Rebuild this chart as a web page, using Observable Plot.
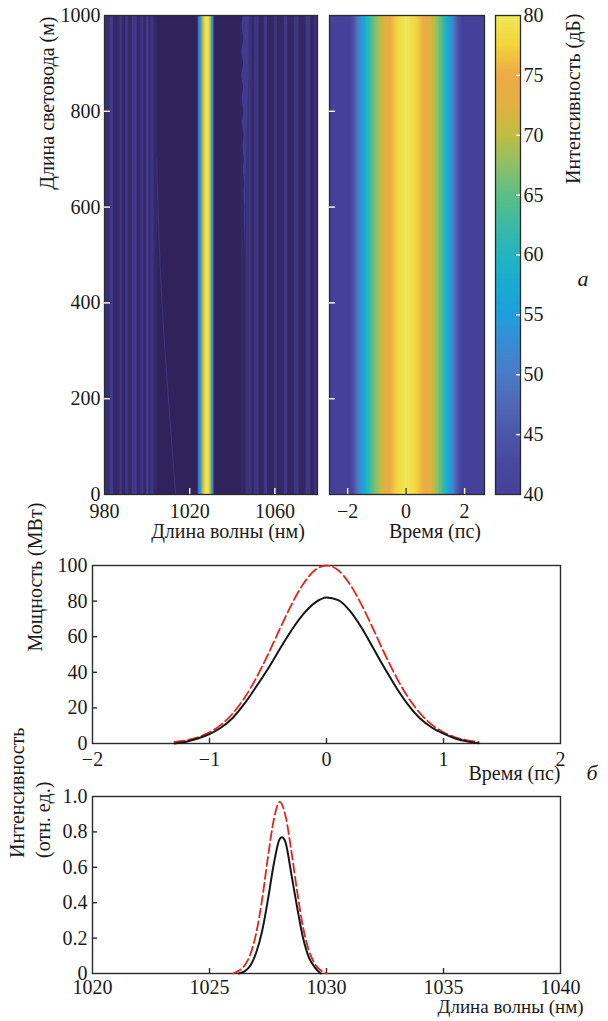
<!DOCTYPE html>
<html><head><meta charset="utf-8">
<script src="https://cdn.jsdelivr.net/npm/d3@7"></script>
<script src="https://cdn.jsdelivr.net/npm/@observablehq/plot@0.6"></script>
<style>
body{margin:0;background:#fff;}
#fig{position:relative;width:608px;height:1021px;overflow:hidden;font-family:'Liberation Serif';}
#fig svg{position:absolute;left:0;top:0;}
</style></head><body><div id="fig"></div>
<script>
// ---------- colour map (dB -> colour) ----------
const colorDb  = [28, 34, 40, 42.5, 45, 47.5, 50, 52.5, 55, 57.5, 60, 62.5, 65, 67.5, 70, 72.5, 75, 77.5, 80];
const colorHex = ["#30235c","#3a2f74","#45409a","#48489f","#4b56a9","#5067b6","#4a7bc7","#388cd4","#1f9edc","#18aad3","#24b4bf","#3bbaa4","#5dbe86","#8ec066","#bfbd42","#e2b143","#eeaa47","#f3d43a","#eee858"];
const colorTicks = [40, 45, 50, 55, 60, 65, 70, 75, 80];

// ---------- panel а, left: spectrum along the fibre (dB) ----------
const fibreLen = [0, 1000];
const specWlRange = [980, 1080];
const specFloorDb = 28;
const zoneLo = [980, 1044];
const zoneHi = [1005, 1080];
const zoneDb = [30.5, 30];
const stripeLo = [980.0, 982.8, 987.2, 989.9, 993.0, 997.0, 999.8, 1001.6, 1046.4, 1050.3, 1055.0, 1059.7, 1064.4, 1069.1, 1074.6, 1078.5];
const stripeHi = [982.8, 984.2, 988.3, 991.4, 995.4, 998.5, 1000.8, 1003.2, 1049.5, 1052.6, 1056.6, 1061.3, 1066.0, 1071.4, 1076.9, 1080.0];
const stripeDb = [34, 38, 38, 36, 37, 36, 40, 36, 35, 36, 37, 35, 37, 36, 37, 35];
const lineWl = [1023.6, 1023.9, 1024.3, 1024.8, 1025.3, 1025.8, 1026.2, 1026.7, 1027.3, 1028.0, 1028.7, 1029.2, 1029.6, 1030.0, 1030.4, 1030.8, 1031.2, 1031.5];
const lineDb = [28, 45, 50, 54, 60, 67, 73, 77, 79, 80, 79, 77, 72, 63, 55, 49, 42, 28];
const blobZ     = [1000, 975, 950, 925, 900, 875, 850, 825, 800, 775, 750, 725, 700, 675, 650, 625, 600, 575, 550, 500];
const blobLeft  = [1045.2, 1044.6, 1045.4, 1044.5, 1045.3, 1044.4, 1045.3, 1044.6, 1045.4, 1044.8, 1045.5, 1045.0, 1045.6, 1045.2, 1045.8, 1045.4, 1045.9, 1045.6, 1046.0, 1046.0];
const blobRight = [1048.2, 1048.0, 1047.9, 1048.0, 1047.8, 1047.9, 1047.6, 1047.5, 1047.3, 1047.2, 1047.0, 1046.9, 1046.8, 1046.6, 1046.5, 1046.4, 1046.3, 1046.2, 1046.2, 1046.1];
const blobDb = 38;
const traceZ  = [0, 200, 450, 700];
const traceWl = [1013.4, 1010.0, 1006.4, 1004.5];
const traceDb = 35;

// ---------- panel а, middle: pulse along the fibre (dB) ----------
const timeRange = [-2.62, 2.68];
const pulseT  = [-2.62, -1.95, -1.80, -1.62, -1.40, -1.15, -0.88, -0.62, -0.30, 0, 0.30, 0.68, 0.95, 1.18, 1.40, 1.60, 1.78, 1.92, 2.68];
const pulseDb = [40, 40, 44, 51, 58, 65, 70, 74, 78, 80, 78, 74, 70, 65, 58, 51, 44, 40, 40];

// ---------- panel б: power (MW) ----------
const timePs   = [-1.3,-1.2,-1.1,-1.0,-0.9,-0.8,-0.7,-0.6,-0.5,-0.4,-0.3,-0.2,-0.1,0,0.1,0.2,0.3,0.4,0.5,0.6,0.7,0.8,0.9,1.0,1.1,1.2,1.3];
const powerIn  = [0.9,1.8,3.5,6.3,10.6,17,25.7,36.9,50,64.2,77.9,89.5,97.3,100,97.3,89.5,77.9,64.2,50,36.9,25.7,17,10.6,6.3,3.5,1.8,0.9];
const powerOut = [0,1,2.8,5.3,9,14.5,22.5,32,42,53,63.5,72.5,79,82,80.5,74.5,65,53.5,42,31,21.5,14,9,5.5,2.8,1.2,0.2];

// ---------- panel в: spectrum (rel. units) ----------
const wlIn   = [1026.0,1026.25,1026.5,1026.75,1027.0,1027.25,1027.5,1027.75,1028.0,1028.25,1028.5,1028.75,1029.0,1029.25,1029.5,1029.75,1030.0];
const specIn = [0.0,0.015,0.045,0.11,0.23,0.42,0.66,0.87,0.97,0.89,0.69,0.46,0.26,0.13,0.055,0.018,0.0];
const wlOut   = [1026.25,1026.5,1026.75,1027.0,1027.25,1027.5,1027.75,1028.0,1028.1,1028.25,1028.5,1028.75,1029.0,1029.25,1029.5,1029.75];
const specOut = [0.0,0.012,0.045,0.12,0.24,0.42,0.62,0.76,0.77,0.74,0.56,0.37,0.2,0.09,0.035,0.0];

// ---------- layout ----------
const W = 608, H = 1021;
const FONT = "Liberation Serif";
const INK = "#1a1a1a";
const FS = 20;
const style = {background: "transparent", fontFamily: FONT, fontSize: FS + "px", color: INK, overflow: "visible"};
const fr = (L, R, T, B) => ({width: W, height: H, marginLeft: L, marginRight: W - R, marginTop: T, marginBottom: H - B});
const fmt = d => (d < 0 ? "\u2212" + Math.abs(d) : String(d));
const colorScale = {type: "linear", domain: colorDb, range: colorHex, interpolate: "rgb", clamp: true};
const txt = (s, o) => Plot.text([s], {text: d => d, fontFamily: FONT, fontSize: FS, fill: INK, ...o});
const fig = document.getElementById("fig");
const put = svg => {
  svg.setAttribute("font-family", FONT);
  svg.querySelectorAll("[font-family]").forEach(el => el.setAttribute("font-family", FONT));
  fig.append(svg);
};

// data tables
const zones = zoneLo.map((lo, i) => ({lo, hi: zoneHi[i], db: zoneDb[i]}));
const stripes = stripeLo.map((lo, i) => ({lo, hi: stripeHi[i], db: stripeDb[i]}));
const blob = blobZ.map((z, i) => ({z, left: blobLeft[i], right: blobRight[i]}));
const trace = traceZ.map((z, i) => ({z, wl: traceWl[i]}));
const linePts = fibreLen.flatMap(z => lineWl.map((wl, i) => ({wl, z, db: lineDb[i]})));
const pulsePts = fibreLen.flatMap(z => pulseT.map((t, i) => ({t, z, db: pulseDb[i]})));
const pIn = timePs.map((t, i) => ({t, p: powerIn[i]}));
const pOut = timePs.map((t, i) => ({t, p: powerOut[i]}));
const sIn = wlIn.map((w, i) => ({w, s: specIn[i]}));
const sOut = wlOut.map((w, i) => ({w, s: specOut[i]}));

// ---- panel а: spectral map ----
const A1 = {L: 104, R: 317, T: 15, B: 494};
put(Plot.plot({
  ...fr(A1.L, A1.R, A1.T, A1.B), style,
  x: {domain: specWlRange, axis: null}, y: {domain: fibreLen, axis: null}, color: colorScale,
  marks: [
    Plot.rect([specFloorDb], {x1: specWlRange[0], x2: specWlRange[1], y1: fibreLen[0], y2: fibreLen[1], fill: d => d}),
    Plot.rect(zones, {x1: "lo", x2: "hi", y1: fibreLen[0], y2: fibreLen[1], fill: "db"}),
    Plot.rect(stripes, {x1: "lo", x2: "hi", y1: fibreLen[0], y2: fibreLen[1], fill: "db"}),
    Plot.areaX(blob, {y: "z", x1: "left", x2: "right", fill: () => blobDb, curve: "monotone-y"}),
    Plot.line(trace, {x: "wl", y: "z", stroke: () => traceDb, strokeWidth: 1.2, curve: "monotone-y"}),
    Plot.raster(linePts, {x: "wl", y: "z", fill: "db", interpolate: "barycentric",
      x1: lineWl[0], x2: lineWl[lineWl.length - 1], y1: fibreLen[0], y2: fibreLen[1]}),
    Plot.frame({stroke: "#2b2b2b", strokeWidth: 1.3}),
    Plot.tickX([1020, 1060], {x: d => d, stroke: "white", strokeWidth: 1.4, insetTop: (A1.B - A1.T) - 6}),
    Plot.tickY([200, 400, 600, 800], {y: d => d, stroke: "white", strokeWidth: 1.4, insetRight: (A1.R - A1.L) - 6}),
    Plot.axisX({ticks: [980, 1020, 1060], tickSize: 0, tickPadding: 9, tickFormat: fmt, label: null, fontSize: FS}),
    Plot.axisY({ticks: [0, 200, 400, 600, 800, 1000], tickSize: 0, tickPadding: 4, tickFormat: fmt, label: null, fontSize: FS}),
    txt("Длина волны (нм)", {frameAnchor: "bottom", dx: 17, dy: 43}),
    txt("Длина световода (м)", {frameAnchor: "top-left", rotate: -90, textAnchor: "end", dx: -65, dy: 1})
  ]
}));

// ---- panel а: temporal map ----
const A2 = {L: 329, R: 484, T: 15, B: 494};
put(Plot.plot({
  ...fr(A2.L, A2.R, A2.T, A2.B), style,
  x: {domain: timeRange, axis: null}, y: {domain: fibreLen, axis: null}, color: colorScale,
  marks: [
    Plot.raster(pulsePts, {x: "t", y: "z", fill: "db", interpolate: "barycentric",
      x1: timeRange[0], x2: timeRange[1], y1: fibreLen[0], y2: fibreLen[1]}),
    Plot.frame({stroke: "#2b2b2b", strokeWidth: 1.3}),
    Plot.tickX([-2, 2], {x: d => d, stroke: "white", strokeWidth: 1.4, insetTop: (A2.B - A2.T) - 6}),
    Plot.tickX([0], {x: d => d, stroke: "#444", strokeWidth: 1.4, insetTop: (A2.B - A2.T) - 6}),
    Plot.tickY([200, 400, 600, 800], {y: d => d, stroke: "white", strokeWidth: 1.4, insetRight: (A2.R - A2.L) - 6}),
    Plot.axisX({ticks: [-2, 0, 2], tickSize: 0, tickPadding: 9, tickFormat: fmt, label: null, fontSize: FS}),
    txt("Время (пс)", {frameAnchor: "bottom", dx: 28, dy: 43})
  ]
}));

// ---- colour bar ----
const CB = {L: 495, R: 520, T: 15, B: 494};
const cbStep = 0.2;
const cbCells = d3.range(colorTicks[0], colorTicks[colorTicks.length - 1], cbStep);
put(Plot.plot({
  ...fr(CB.L, CB.R, CB.T, CB.B), style,
  x: {domain: [0, 1], axis: null}, y: {domain: [colorTicks[0], colorTicks[colorTicks.length - 1]], axis: null}, color: colorScale,
  marks: [
    Plot.rect(cbCells, {x1: 0, x2: 1, y1: d => d, y2: d => Math.min(d + cbStep * 2, 80), fill: d => d + cbStep / 2, shapeRendering: "crispEdges"}),
    Plot.frame({stroke: "#2b2b2b", strokeWidth: 1.3}),
    Plot.tickY(colorTicks.slice(1, -1), {y: d => d, stroke: "white", strokeWidth: 1.4, insetLeft: (CB.R - CB.L) - 4}),
    Plot.axisY({anchor: "right", ticks: colorTicks, tickSize: 0, tickPadding: 3, tickFormat: fmt, label: null, fontSize: FS}),
    txt("Интенсивность (дБ)", {frameAnchor: "top-right", rotate: -90, textAnchor: "end", dx: 45, dy: -2}),
    txt("а", {frameAnchor: "top-right", dx: 68, dy: 255, fontStyle: "italic", fontSize: 22})
  ]
}));

// ---- panel б: power ----
const PB = {L: 92, R: 560, T: 565, B: 743};
put(Plot.plot({
  ...fr(PB.L, PB.R, PB.T, PB.B), style,
  x: {domain: [-2, 2], axis: null}, y: {domain: [0, 100], axis: null},
  marks: [
    Plot.frame({stroke: "#2b2b2b", strokeWidth: 1.4}),
    Plot.tickX([-1, 0, 1], {x: d => d, stroke: "#2b2b2b", strokeWidth: 1.4, insetTop: (PB.B - PB.T) - 5}),
    Plot.tickY([20, 40, 60, 80], {y: d => d, stroke: "#2b2b2b", strokeWidth: 1.4, insetRight: (PB.R - PB.L) - 5}),
    Plot.line(pIn, {x: "t", y: "p", stroke: "#e3231f", strokeWidth: 1.8, strokeDasharray: "10,4", curve: "monotone-x"}),
    Plot.line(pOut, {x: "t", y: "p", stroke: "#161616", strokeWidth: 2, curve: "monotone-x"}),
    Plot.axisX({ticks: [-2, -1, 0, 1, 2], tickSize: 0, tickPadding: 8, tickFormat: fmt, label: null, fontSize: FS}),
    Plot.axisY({ticks: [0, 20, 40, 60, 80, 100], tickSize: 0, tickPadding: 5, tickFormat: fmt, label: null, fontSize: FS}),
    txt("Время (пс)", {frameAnchor: "bottom-right", textAnchor: "end", dx: 0, dy: 36}),
    txt("б", {frameAnchor: "bottom-right", dx: 37, dy: 36, fontStyle: "italic", fontSize: 22}),
    txt("Мощность (МВт)", {frameAnchor: "left", rotate: -90, dx: -57, dy: -3})
  ]
}));

// ---- panel в: spectrum ----
const PC = {L: 92, R: 560, T: 796, B: 973};
put(Plot.plot({
  ...fr(PC.L, PC.R, PC.T, PC.B), style,
  x: {domain: [1020, 1040], axis: null}, y: {domain: [0, 1], axis: null},
  marks: [
    Plot.frame({stroke: "#2b2b2b", strokeWidth: 1.4}),
    Plot.tickX([1025, 1030, 1035], {x: d => d, stroke: "#2b2b2b", strokeWidth: 1.4, insetTop: (PC.B - PC.T) - 5}),
    Plot.tickY([0.2, 0.4, 0.6, 0.8], {y: d => d, stroke: "#2b2b2b", strokeWidth: 1.4, insetRight: (PC.R - PC.L) - 5}),
    Plot.line(sIn, {x: "w", y: "s", stroke: "#e3231f", strokeWidth: 1.8, strokeDasharray: "9,4", curve: "monotone-x"}),
    Plot.line(sOut, {x: "w", y: "s", stroke: "#161616", strokeWidth: 2, curve: "monotone-x"}),
    Plot.axisX({ticks: [1020, 1025, 1030, 1035, 1040], tickSize: 0, tickPadding: 6, label: null, tickFormat: d => String(d), fontSize: FS}),
    Plot.axisY({ticks: [0, 0.2, 0.4, 0.6, 0.8, 1.0], tickSize: 0, tickPadding: 5, label: null,
      tickFormat: d => (d === 0 ? "0" : d.toFixed(1)), fontSize: FS}),
    txt("Длина волны (нм)", {frameAnchor: "bottom-right", textAnchor: "end", dx: 23, dy: 39, fontSize: 19}),
    txt("Интенсивность", {frameAnchor: "left", rotate: -90, dx: -75, dy: -27}),
    txt("(отн. ед.)", {frameAnchor: "left", rotate: -90, dx: -49, dy: -27})
  ]
}));
</script></body></html>
